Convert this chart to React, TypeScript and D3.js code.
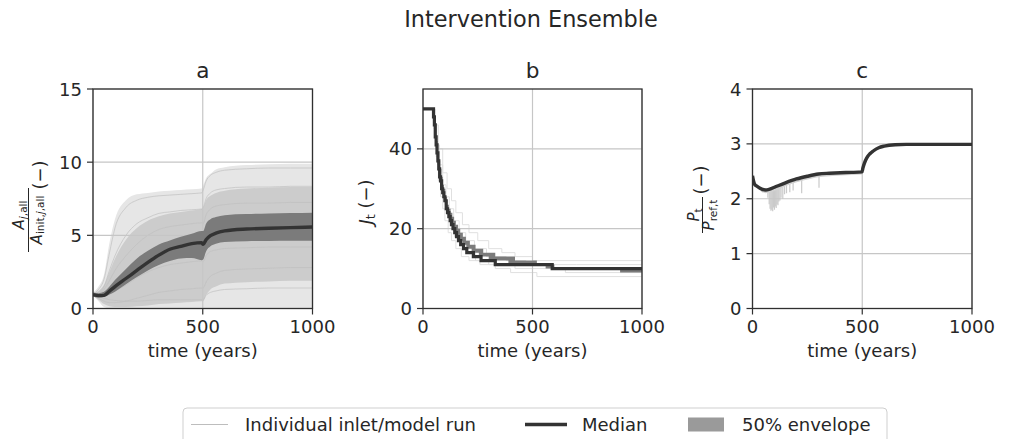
import React from 'react';
import * as d3 from 'd3';

// ---------------- DATA ----------------
const xTickValues = [0, 500, 1000];
const aYTicks = [0, 5, 10, 15];
const bYTicks = [0, 20, 40];
const cYTicks = [0, 1, 2, 3, 4];
const panelTitles = ['a', 'b', 'c'];
const legendLabels = ['Individual inlet/model run', 'Median', '50% envelope'];

// Panel a: A_j,all / A_init,j,all
const aT = [0, 25, 50, 75, 100, 150, 200, 250, 300, 350, 400, 450, 495, 502, 515, 535, 560, 600, 700, 800, 900, 1000];
const aMed = [0.95, 0.88, 0.9, 1.19, 1.5, 2.05, 2.6, 3.15, 3.65, 4.05, 4.25, 4.43, 4.5, 4.38, 4.7, 4.98, 5.15, 5.3, 5.43, 5.48, 5.53, 5.57];
const aP25 = [0.8, 0.75, 0.78, 0.95, 1.15, 1.65, 2.15, 2.6, 2.97, 3.25, 3.42, 3.45, 3.3, 3.35, 3.9, 4.25, 4.42, 4.55, 4.6, 4.62, 4.63, 4.63];
const aP75 = [1.1, 1.05, 1.15, 1.5, 1.94, 2.7, 3.42, 3.95, 4.38, 4.65, 4.9, 5.1, 5.3, 5.3, 5.8, 6.1, 6.25, 6.38, 6.45, 6.5, 6.52, 6.55];
const aMax = [1.1, 1.5, 2.3, 4.5, 6.1, 7.4, 7.8, 7.9, 8.0, 8.05, 8.1, 8.15, 8.2, 8.4, 8.9, 9.2, 9.5, 9.65, 9.8, 9.85, 9.9, 9.9];
const aP90 = [1.05, 1.2, 1.6, 2.5, 3.4, 4.7, 5.5, 6.0, 6.3, 6.5, 6.6, 6.7, 6.8, 6.9, 7.4, 7.7, 7.9, 8.05, 8.2, 8.25, 8.3, 8.3];
const aP10 = [0.85, 0.6, 0.3, 0.15, 0.1, 0.1, 0.15, 0.2, 0.3, 0.35, 0.4, 0.45, 0.5, 0.5, 0.9, 1.3, 1.5, 1.7, 1.8, 1.85, 1.9, 1.9];
const aMin = [0.9, 0.5, 0.1, 0, 0, 0, 0, 0, 0, 0, 0, 0, 0, 0, 0, 0, 0, 0, 0, 0, 0, 0];
const aRuns = [
  [1.0, 1.3, 2.0, 3.8, 5.5, 6.9, 7.4, 7.6, 7.7, 7.75, 7.8, 7.85, 7.9, 8.1, 8.7, 9.1, 9.3, 9.45, 9.55, 9.6, 9.6, 9.6],
  [1.0, 1.1, 1.5, 2.6, 3.6, 5.0, 5.8, 6.2, 6.5, 6.6, 6.7, 6.75, 6.8, 6.9, 7.5, 7.9, 8.1, 8.2, 8.3, 8.3, 8.35, 8.35],
  [0.95, 0.7, 0.5, 0.4, 0.4, 0.5, 0.7, 0.9, 1.1, 1.2, 1.3, 1.35, 1.4, 1.4, 1.8, 2.2, 2.4, 2.6, 2.7, 2.75, 2.8, 2.8],
  [1.0, 0.9, 0.9, 1.0, 1.2, 1.6, 2.1, 2.5, 2.8, 3.0, 3.1, 3.2, 3.25, 3.2, 3.6, 3.9, 4.0, 4.1, 4.15, 4.2, 4.2, 4.2],
  [1.0, 1.0, 1.3, 1.9, 2.6, 3.6, 4.4, 5.0, 5.4, 5.6, 5.7, 5.8, 5.85, 5.8, 6.4, 6.8, 7.0, 7.1, 7.2, 7.2, 7.25, 7.25],
  [1.0, 0.85, 0.7, 0.6, 0.55, 0.5, 0.5, 0.55, 0.6, 0.6, 0.6, 0.6, 0.6, 0.6, 0.9, 1.1, 1.2, 1.3, 1.35, 1.4, 1.4, 1.4],
];

// Panel b: J_t (step series)
const bMedT = [0, 45, 48, 52, 56, 60, 64, 68, 72, 76, 80, 85, 90, 95, 100, 106, 112, 118, 124, 130, 137, 145, 153, 162, 172, 185, 200, 230, 265, 330, 590, 1000];
const bMedV = [50, 50, 48, 46, 43, 41, 39, 37, 35, 33, 32, 30, 29, 28, 27, 25, 24, 23, 22, 21, 20, 19, 18, 17, 16, 15, 14, 13, 12, 11, 10, 10];
const bP75T = [0, 45, 50, 55, 60, 66, 72, 78, 84, 90, 96, 102, 110, 118, 126, 134, 142, 150, 160, 170, 182, 196, 214, 240, 275, 330, 420, 520, 600, 1000];
const bP75V = [50, 50, 48, 45, 42, 39, 37, 35, 33, 31, 30, 28, 26, 25, 24, 23, 22, 21, 20, 19, 18, 17, 16, 15, 14, 13, 12, 11, 10, 10];
const bP25T = [0, 45, 47, 51, 55, 59, 63, 67, 72, 77, 82, 88, 94, 100, 107, 114, 121, 128, 136, 144, 154, 166, 180, 198, 222, 255, 300, 390, 560, 900, 1000];
const bP25V = [50, 50, 47, 44, 42, 40, 38, 36, 34, 32, 31, 29, 28, 26, 25, 23, 22, 21, 20, 19, 18, 17, 16, 15, 14, 13, 12, 11, 10, 9, 9];
const bRun1T = [0, 45, 55, 70, 90, 110, 130, 150, 180, 210, 250, 300, 360, 420, 500, 1000];
const bRun1V = [50, 50, 46, 40, 34, 30, 27, 24, 21, 19, 17, 15, 14, 13, 12, 12];
const bRun2T = [0, 45, 50, 60, 70, 80, 90, 100, 115, 130, 150, 175, 210, 260, 330, 400, 520, 1000];
const bRun2V = [50, 50, 45, 38, 32, 28, 25, 22, 19, 17, 15, 13, 12, 11, 10, 9, 8, 8];
const bRun3T = [0, 45, 52, 62, 75, 90, 105, 120, 140, 165, 195, 235, 290, 380, 470, 700, 1000];
const bRun3V = [50, 50, 46, 41, 36, 31, 28, 25, 22, 19, 17, 15, 13, 12, 11, 11, 11];
const bRun4T = [0, 45, 49, 56, 65, 75, 85, 97, 110, 125, 145, 170, 200, 240, 300, 420, 650, 1000];
const bRun4V = [50, 50, 46, 42, 37, 33, 30, 27, 24, 21, 18, 16, 14, 12, 11, 10, 9, 9];

// Panel c: P_t / P_ref,t
const cT = [0, 5, 10, 20, 40, 60, 75, 100, 150, 200, 250, 300, 350, 400, 450, 499, 503, 510, 520, 535, 550, 575, 600, 650, 700, 800, 1000];
const cMed = [2.42, 2.32, 2.26, 2.23, 2.18, 2.16, 2.17, 2.21, 2.29, 2.36, 2.41, 2.45, 2.465, 2.475, 2.48, 2.49, 2.56, 2.65, 2.74, 2.82, 2.87, 2.93, 2.96, 2.985, 2.99, 2.99, 2.99];
const cRunT = [40, 60, 100, 150, 200, 250, 300, 350, 400, 450, 499];
const cRunV = [2.15, 2.12, 2.16, 2.25, 2.32, 2.37, 2.41, 2.43, 2.44, 2.45, 2.46];
const cSpikeT = [70, 76, 80, 84, 88, 92, 96, 100, 104, 108, 112, 116, 120, 125, 130, 138, 146, 155, 170, 185, 224, 303];
const cSpikeLow = [2.02, 1.9, 1.82, 1.78, 1.8, 1.77, 1.84, 1.8, 1.86, 1.83, 1.9, 1.88, 1.95, 1.97, 2.02, 2.0, 2.08, 2.1, 2.12, 2.15, 2.1, 2.2];
const cSpikeTop = [2.165, 2.17, 2.175, 2.18, 2.185, 2.19, 2.2, 2.21, 2.215, 2.22, 2.23, 2.235, 2.24, 2.25, 2.255, 2.27, 2.28, 2.295, 2.32, 2.34, 2.385, 2.45];

// ---------------- LAYOUT ----------------
const W = 1010;
const H = 439;
const TOP = 89;
const BOTTOM = 308.5;
const PANELS = [
  { l: 93, r: 312.5, yMax: 15, ticks: aYTicks },
  { l: 423, r: 642, yMax: 55, ticks: bYTicks },
  { l: 752.5, r: 972, yMax: 4, ticks: cYTicks },
];
const FONT = "'DejaVu Sans', sans-serif";
const TXT = '#262626';
const GRID = '#c6c6c6';
const SPINE = '#303030';
const MED = '#333333';
const BAND = '#7b7b7b';

function scales(i: number) {
  const p = PANELS[i];
  const x = d3.scaleLinear().domain([0, 1000]).range([p.l, p.r]);
  const y = d3.scaleLinear().domain([0, p.yMax]).range([BOTTOM, TOP]);
  return { x, y, p };
}

function zip(t: number[], v: number[]): [number, number][] {
  return t.map((d, i) => [d, v[i]] as [number, number]);
}

function AxesFrame({ i, children }: { i: number; children?: React.ReactNode }) {
  const { x, y, p } = scales(i);
  return (
    <g>
      <defs>
        <clipPath id={`clip${i}`}>
          <rect x={p.l} y={TOP} width={p.r - p.l} height={BOTTOM - TOP} />
        </clipPath>
      </defs>
      {children}
      <rect x={p.l} y={TOP} width={p.r - p.l} height={BOTTOM - TOP} fill="none" stroke={SPINE} strokeWidth={1.3} />
      {xTickValues.map((t) => (
        <g key={`xt${t}`}>
          <line x1={x(t)} x2={x(t)} y1={BOTTOM} y2={BOTTOM + 6} stroke={SPINE} strokeWidth={1.2} />
          <text x={x(t)} y={333} textAnchor="middle" fontSize={18} fill={TXT}>{t}</text>
        </g>
      ))}
      {p.ticks.map((t) => (
        <g key={`yt${t}`}>
          <line x1={p.l - 6} x2={p.l} y1={y(t)} y2={y(t)} stroke={SPINE} strokeWidth={1.2} />
          <text x={p.l - 11} y={y(t) + 6.5} textAnchor="end" fontSize={18} fill={TXT}>{t}</text>
        </g>
      ))}
      <text x={(p.l + p.r) / 2} y={78} textAnchor="middle" fontSize={21.6} fill={TXT}>{panelTitles[i]}</text>
      <text x={(p.l + p.r) / 2} y={357} textAnchor="middle" fontSize={18} fill={TXT}>time (years)</text>
    </g>
  );
}

function Grid({ i }: { i: number }) {
  const { x, y, p } = scales(i);
  return (
    <g stroke={GRID} strokeWidth={1.2}>
      {xTickValues.map((t) => (
        <line key={`gx${t}`} x1={x(t)} x2={x(t)} y1={TOP} y2={BOTTOM} />
      ))}
      {p.ticks.map((t) => (
        <line key={`gy${t}`} x1={p.l} x2={p.r} y1={y(t)} y2={y(t)} />
      ))}
    </g>
  );
}

function PanelA() {
  const { x, y } = scales(0);
  const idx = aT.map((_, k) => k);
  const area = (lo: number[], hi: number[]) =>
    d3.area<number>().x((k) => x(aT[k])).y0((k) => y(lo[k])).y1((k) => y(hi[k])).curve(d3.curveMonotoneX)(idx) || '';
  const line = (v: number[]) => d3.line<number>().x((k) => x(aT[k])).y((k) => y(v[k])).curve(d3.curveMonotoneX)(idx) || '';
  return (
    <AxesFrame i={0}>
      <g clipPath="url(#clip0)">
        <path d={area(aMin, aMax)} fill="#e6e6e6" />
        <path d={area(aP10, aP90)} fill="#cccccc" />
        {aRuns.map((r, k) => (
          <path key={k} d={line(r)} fill="none" stroke="#c0c0c0" strokeWidth={0.7} />
        ))}
      </g>
      <Grid i={0} />
      <g clipPath="url(#clip0)">
        <path d={area(aP25, aP75)} fill={BAND} />
        <path d={line(aMed)} fill="none" stroke={MED} strokeWidth={3.4} strokeLinejoin="round" />
      </g>
    </AxesFrame>
  );
}

function PanelB() {
  const { x, y } = scales(1);
  const step = (t: number[], v: number[]) =>
    d3.line<[number, number]>().x((d) => x(d[0])).y((d) => y(d[1])).curve(d3.curveStepAfter)(zip(t, v)) || '';
  const u = zip(bP75T, bP75V);
  const lo = zip(bP25T, bP25V);
  const upPath = d3.line<[number, number]>().x((d) => x(d[0])).y((d) => y(d[1])).curve(d3.curveStepAfter)(u) || '';
  const loRev: [number, number][] = [];
  for (let k = lo.length - 1; k >= 0; k--) {
    const cur = lo[k];
    const nextT = k < lo.length - 1 ? lo[k + 1][0] : cur[0];
    loRev.push([nextT, cur[1]]);
    loRev.push([cur[0], cur[1]]);
  }
  const loPath = loRev.map((d) => `L${x(d[0])},${y(d[1])}`).join('');
  const runs: [number[], number[]][] = [
    [bRun1T, bRun1V],
    [bRun2T, bRun2V],
    [bRun3T, bRun3V],
    [bRun4T, bRun4V],
  ];
  return (
    <AxesFrame i={1}>
      <g clipPath="url(#clip1)">
        {runs.map((r, k) => (
          <path key={k} d={step(r[0], r[1])} fill="none" stroke="#e0e0e0" strokeWidth={1} />
        ))}
      </g>
      <Grid i={1} />
      <g clipPath="url(#clip1)">
        <path d={upPath + loPath + 'Z'} fill={BAND} />
        <path d={step(bMedT, bMedV)} fill="none" stroke={MED} strokeWidth={3.2} />
      </g>
    </AxesFrame>
  );
}

function PanelC() {
  const { x, y } = scales(2);
  const line = (t: number[], v: number[]) =>
    d3.line<[number, number]>().x((d) => x(d[0])).y((d) => y(d[1])).curve(d3.curveMonotoneX)(zip(t, v)) || '';
  return (
    <AxesFrame i={2}>
      <g clipPath="url(#clip2)">
        {cSpikeT.map((t, k) => (
          <line key={k} x1={x(t)} x2={x(t)} y1={y(cSpikeTop[k])} y2={y(cSpikeLow[k])} stroke="#cacaca" strokeWidth={1.2} />
        ))}
        <path d={line(cRunT, cRunV)} fill="none" stroke="#d2d2d2" strokeWidth={2} />
      </g>
      <Grid i={2} />
      <g clipPath="url(#clip2)">
        <path d={line(cT, cMed)} fill="none" stroke={MED} strokeWidth={3.4} strokeLinejoin="round" />
      </g>
    </AxesFrame>
  );
}

function YLabels() {
  return (
    <g fill={TXT}>
      <text transform="translate(24,215) rotate(-90)" textAnchor="middle" fontSize={15}>
        <tspan fontStyle="italic">A</tspan>
        <tspan fontSize={10.5} dy={2.5} fontStyle="italic">j</tspan>
        <tspan fontSize={10.5}>,all</tspan>
      </text>
      <line x1={28.5} x2={28.5} y1={188} y2={252} stroke={TXT} strokeWidth={1} />
      <text transform="translate(41.5,220) rotate(-90)" textAnchor="middle" fontSize={15}>
        <tspan fontStyle="italic">A</tspan>
        <tspan fontSize={10.5} dy={2.5}>init,</tspan>
        <tspan fontSize={10.5} fontStyle="italic">j</tspan>
        <tspan fontSize={10.5}>,all</tspan>
      </text>
      <text transform="translate(46,175) rotate(-90)" textAnchor="middle" fontSize={18}>(−)</text>

      <text transform="translate(371.5,202) rotate(-90)" textAnchor="middle" fontSize={18}>
        <tspan fontStyle="italic">J</tspan>
        <tspan fontSize={12.6} dy={3}>t</tspan>
        <tspan dy={-3}> (−)</tspan>
      </text>

      <text transform="translate(699,215) rotate(-90)" textAnchor="middle" fontSize={15}>
        <tspan fontStyle="italic">P</tspan>
        <tspan fontSize={10.5} dy={2.5}>t</tspan>
      </text>
      <line x1={702.5} x2={702.5} y1={197} y2={233} stroke={TXT} strokeWidth={1} />
      <text transform="translate(714,215) rotate(-90)" textAnchor="middle" fontSize={15}>
        <tspan fontStyle="italic">P</tspan>
        <tspan fontSize={10.5} dy={2.5}>ref,t</tspan>
      </text>
      <text transform="translate(707,180) rotate(-90)" textAnchor="middle" fontSize={18}>(−)</text>
    </g>
  );
}

function Legend() {
  const cy = 424.5;
  return (
    <g>
      <rect x={183} y={408} width={704} height={44} rx={4} fill="#fff" stroke="#cfcfcf" strokeWidth={1} />
      <line x1={191} x2={228} y1={cy} y2={cy} stroke="#bdbdbd" strokeWidth={1} />
      <text x={245} y={cy + 6.5} fontSize={18} fill={TXT}>{legendLabels[0]}</text>
      <line x1={525} x2={567} y1={cy} y2={cy} stroke={MED} strokeWidth={3.5} />
      <text x={582} y={cy + 6.5} fontSize={18} fill={TXT}>{legendLabels[1]}</text>
      <rect x={688} y={cy - 7} width={36} height={14} fill="#9a9a9a" />
      <text x={742} y={cy + 6.5} fontSize={18} fill={TXT}>{legendLabels[2]}</text>
    </g>
  );
}

export default function App() {
  return (
    <svg
      width={W}
      height={H}
      viewBox={`0 0 ${W} ${H}`}
      style={{ position: 'absolute', left: 0, top: 0, background: '#fff' }}
      fontFamily={FONT}
    >
      <rect x={0} y={0} width={W} height={H} fill="#fff" />
      <text x={531} y={27} textAnchor="middle" fontSize={22.4} fill={TXT}>Intervention Ensemble</text>
      <PanelA />
      <PanelB />
      <PanelC />
      <YLabels />
      <Legend />
    </svg>
  );
}
